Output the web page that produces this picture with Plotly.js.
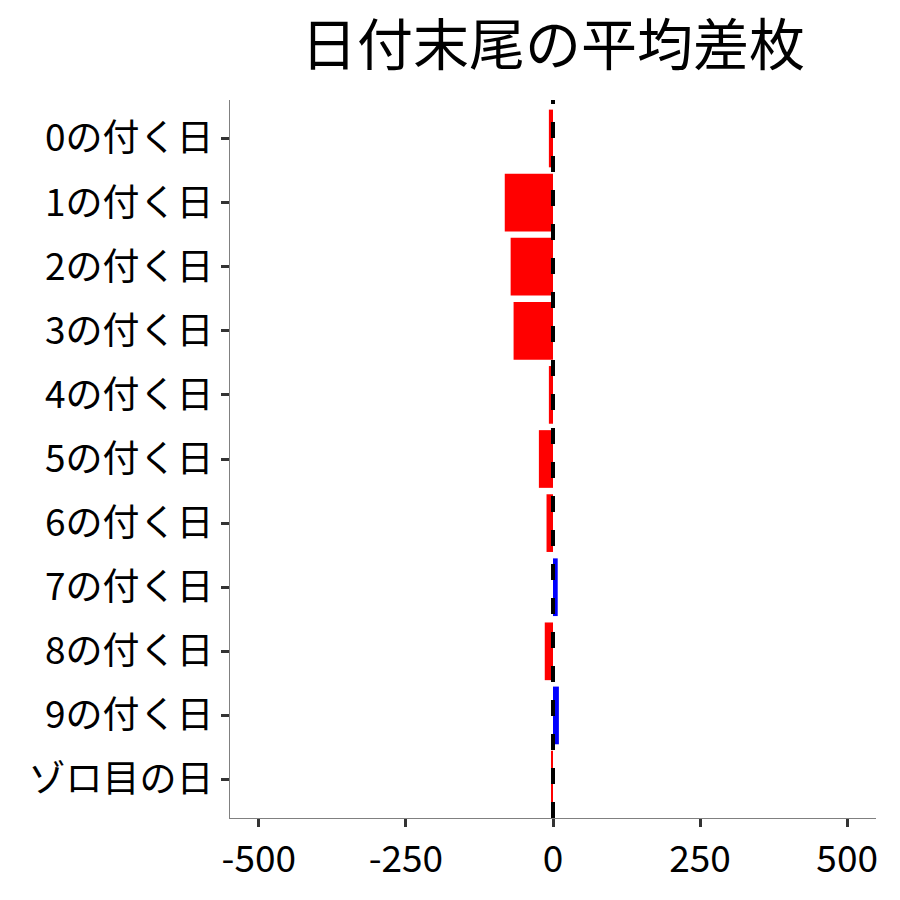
<!DOCTYPE html>
<html>
<head>
<meta charset="utf-8">
<script src="https://cdn.plot.ly/plotly-3.0.1.min.js"></script>
<style>
body { margin: 0; background: #fff; }
#chart { width: 900px; height: 900px; }
</style>
</head>
<body>
<div id="chart"></div>
<script>
// 日付末尾ごとの平均差枚
var days = ['0の付く日', '1の付く日', '2の付く日', '3の付く日', '4の付く日',
	'5の付く日', '6の付く日', '7の付く日', '8の付く日', '9の付く日', 'ゾロ目の日'];
var avgDiff = [-7, -82, -72, -67, -7, -24, -11, 8, -14, 10, -2];
var xTicks = [-500, -250, 0, 250, 500];

var barColors = avgDiff.map(function (v) {
	return v < 0 ? '#FF0000' : '#0000FF';
});

var font = 'Noto Sans CJK JP, Noto Sans, sans-serif';

var data = [ {
	type : 'bar',
	orientation : 'h',
	x : avgDiff,
	y : days,
	width : 0.9,
	marker : {
		color : barColors,
		line : { width : 0 }
	},
	hoverinfo : 'x+y'
} ];

var layout = {
	width : 900,
	height : 900,
	margin : { l : 230, r : 24, t : 100, b : 82 },
	paper_bgcolor : '#fff',
	plot_bgcolor : '#fff',
	showlegend : false,
	font : { family : font, color : '#000' },
	title : {
		text : '日付末尾の平均差枚',
		font : { family : font, size : 56, color : '#000' },
		xref : 'paper',
		x : 0.5,
		xanchor : 'center',
		yref : 'container',
		y : 0.95,
		yanchor : 'middle'
	},
	xaxis : {
		range : [-549, 549],
		tickvals : xTicks,
		ticktext : xTicks.map(String),
		showgrid : false,
		zeroline : false,
		showline : true,
		linecolor : '#808080',
		linewidth : 1.2,
		ticks : 'outside',
		ticklen : 8,
		tickwidth : 3,
		tickcolor : '#333',
		tickfont : { family : font, size : 37, color : '#000' }
	},
	yaxis : {
		type : 'category',
		range : [10.6, -0.6],
		showgrid : false,
		zeroline : false,
		showline : true,
		linecolor : '#808080',
		linewidth : 1.2,
		ticks : 'outside',
		ticklen : 8,
		tickwidth : 3,
		tickcolor : '#333',
		tickfont : { family : font, size : 37, color : '#000' }
	},
	shapes : [ {
		type : 'line',
		xref : 'x',
		yref : 'paper',
		x0 : 0,
		x1 : 0,
		y0 : 0,
		y1 : 1,
		layer : 'above',
		line : { color : '#000', width : 4, dash : '16px,18px' }
	} ]
};

Plotly.newPlot('chart', data, layout, { displayModeBar : false });
</script>
</body>
</html>
